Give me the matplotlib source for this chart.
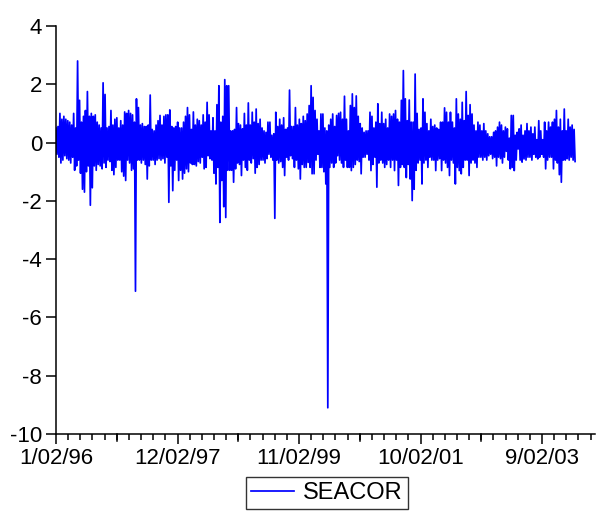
"""
SEACOR daily series, EViews-style line chart (1996-2003).
"""

import numpy as np
import matplotlib

matplotlib.use("Agg")
import matplotlib.pyplot as plt
from matplotlib.ticker import FixedLocator

plt.rcParams["font.family"] = ["Liberation Sans", "DejaVu Sans"]
plt.rcParams["axes.unicode_minus"] = False

# per-column upper / lower envelope of the series
seg1_hi = [0.5, 0.55, 1.0, 0.8, 0.9, 0.8, 0.75, 0.7, 0.6, 1.0, 0.5, 2.8, 1.45, 0.7, 0.9,
           1.1, 1.75, 0.9, 1.0, 0.9, 0.95, 0.7, 0.6, 0.5, 2.05, 1.65, 0.5, 0.55, 1.1, 0.6,
           0.8, 0.85, 0.5, 0.75, 0.6, 1.05, 1.0, 1.1, 1.0, 0.95, 0.7, 1.5, 1.2, 0.6, 0.65]
seg1_lo = [-0.4, -0.5, -0.7, -0.6, -0.45, -0.55, -0.6, -0.7, -0.5, -0.95, -0.8, -0.6, -1.05, -1.6, -1.7,
           -1.0, -0.8, -2.15, -1.55, -0.8, -0.95, -0.75, -0.8, -0.9, -0.7, -0.85, -0.6, -0.65, -0.95, -1.1,
           -0.85, -0.6, -0.6, -1.0, -1.15, -1.3, -0.6, -0.7, -0.95, -0.9, -5.1, -0.6, -0.6, -0.7, -0.6]

seg2_hi = [0.55, 0.55, 0.6, 1.63, 0.45, 0.4, 0.6, 0.75, 0.93, 0.6, 0.9, 0.95, 0.95, 1.12, 0.55,
           0.5, 0.55, 0.7, 0.5, 0.5, 0.7, 0.9, 1.2, 0.95, 0.45, 1.05, 0.6, 0.8, 0.75, 0.6,
           0.95, 0.7, 1.38, 0.95, 0.4, 0.85, 0.4, 1.3, 1.95, 0.7, 0.9, 2.16, 1.95, 1.95, 0.4]
seg2_lo = [-0.75, -1.25, -0.8, -0.6, -0.6, -0.75, -0.6, -0.55, -0.6, -0.55, -0.7, -0.5, -2.05, -0.8, -1.65,
           -0.95, -0.6, -1.3, -0.95, -1.25, -1.05, -0.9, -1.0, -0.7, -0.75, -0.75, -0.8, -0.65, -0.7, -0.5,
           -0.9, -0.85, -0.45, -0.55, -0.6, -1.05, -1.42, -0.85, -2.74, -1.3, -2.2, -2.57, -0.95, -0.95, -0.95]

seg3_hi = [0.4, 0.45, 1.2, 0.65, 0.6, 0.47, 1.0, 0.6, 1.36, 0.6, 1.04, 0.7, 1.15, 0.65, 0.8,
           0.5, 0.4, 0.35, 0.7, 0.7, 0.25, 0.3, 1.04, 0.55, 0.8, 0.6, 0.85, 0.45, 0.5, 1.8,
           0.55, 0.55, 1.2, 0.6, 0.8, 0.65, 0.9, 0.75, 0.98, 1.27, 1.95, 1.55, 1.1, 0.8, 0.4]
seg3_lo = [-1.36, -0.9, -0.7, -0.75, -1.13, -0.6, -0.85, -0.95, -0.6, -0.7, -0.55, -1.05, -0.85, -0.75, -0.6,
           -0.6, -0.7, -0.55, -0.4, -0.5, -0.6, -2.6, -0.6, -0.7, -0.65, -0.85, -1.13, -0.5, -0.6, -0.45,
           -0.55, -0.85, -0.6, -0.9, -1.25, -0.75, -0.85, -0.85, -0.68, -0.85, -1.07, -1.07, -0.6, -0.4, -0.85]

seg4_hi = [0.98, 0.98, 0.5, 0.4, 0.6, 0.8, 0.98, 0.55, 0.93, 1.0, 1.04, 0.8, 1.59, 0.8, 0.4,
           1.27, 1.67, 1.2, 1.6, 0.9, 0.65, 0.5, 0.35, 0.4, 0.4, 1.04, 0.9, 0.5, 0.7, 1.33,
           0.65, 1.04, 0.65, 0.8, 0.5, 0.98, 0.9, 0.98, 1.1, 0.8, 0.7, 1.45, 2.47, 1.5, 0.75]
seg4_lo = [-0.85, -1.0, -1.42, -9.1, -0.85, -0.7, -0.85, -0.7, -0.45, -0.6, -0.7, -0.85, -0.6, -0.85, -0.85,
           -0.96, -0.85, -0.75, -0.6, -0.65, -1.07, -0.5, -0.5, -0.4, -0.6, -0.96, -0.75, -0.5, -1.53, -0.7,
           -0.6, -0.7, -0.85, -0.75, -0.6, -0.85, -0.6, -0.96, -0.6, -1.47, -0.85, -0.75, -0.85, -1.2, -0.75]

seg5_hi = [1.46, 0.7, 0.7, 2.35, 1.0, 0.45, 0.5, 1.5, 1.04, 0.65, 0.4, 0.8, 0.55, 0.6, 0.5,
           0.45, 0.7, 0.7, 1.19, 1.04, 0.7, 1.04, 0.7, 0.5, 1.5, 0.98, 0.8, 1.38, 0.75, 1.75,
           0.93, 1.3, 0.98, 0.6, 0.4, 0.7, 0.6, 0.4, 0.65, 0.4, 0.3, 0.2, 0.2, 0.35, 0.4]
seg5_lo = [-1.25, -1.99, -1.6, -0.95, -0.7, -0.6, -1.42, -0.7, -0.6, -0.85, -0.5, -0.6, -0.6, -0.96, -0.6,
           -0.55, -0.96, -0.6, -0.7, -0.85, -1.13, -0.6, -0.7, -1.42, -0.85, -0.96, -1.07, -0.85, -0.6, -0.6,
           -1.13, -0.7, -0.6, -0.7, -0.85, -0.5, -0.5, -0.6, -0.5, -0.6, -0.45, -0.4, -0.55, -0.5, -0.8]

seg6_hi = [0.53, 0.7, 0.6, 0.4, 0.53, 0.47, 0.15, 0.93, 0.93, 0.25, 0.35, 0.47, 0.6, 0.25, 0.4,
           0.65, 0.4, 0.53, 0.3, 0.53, 0.1, 0.75, 0.4, 0.1, 0.7, 0.4, 0.7, 0.53, 0.7, 0.8,
           1.1, 0.53, 0.8, 0.4, 1.15, 0.4, 0.8, 0.53, 0.6, 0.45]
seg6_lo = [-0.5, -0.55, -0.7, -0.5, -0.3, -0.6, -0.9, -0.85, -0.96, -0.6, -0.22, -0.6, -0.67, -0.56, -0.6,
           -0.5, -0.5, -0.6, -0.4, -0.5, -0.56, -0.5, -0.4, -0.5, -0.9, -0.6, -0.5, -0.5, -0.9, -0.6,
           -0.7, -1.1, -1.36, -0.6, -0.6, -0.55, -0.6, -0.5, -0.6, -0.65]

tick_labels = ["1/02/96", "12/02/97", "11/02/99", "10/02/01", "9/02/03"]
label_obs = [0, 500, 1000, 1500, 2000]
last_obs = 2136
axis_end_obs = 2218
series_name = "SEACOR"


def build_series():
    hi = seg1_hi + seg2_hi + seg3_hi + seg4_hi + seg5_hi + seg6_hi
    lo = seg1_lo + seg2_lo + seg3_lo + seg4_lo + seg5_lo + seg6_lo
    values = []
    for h, l in zip(hi, lo):
        values.extend([h, l])
    return np.array(values)


def main():
    y = build_series()
    x = np.linspace(0, last_obs, len(y))

    fig = plt.figure(figsize=(5.96, 5.25), dpi=100)
    ax = fig.add_axes([56 / 596, 1 - 434 / 525, 539 / 596, 408 / 525])

    (line,) = ax.plot(x, y, color="#0000ff", lw=1.25)

    ax.set_xlim(0, axis_end_obs)
    ax.set_ylim(-10, 4)
    ax.set_xticks(label_obs)
    ax.set_xticklabels(tick_labels)
    ax.xaxis.set_minor_locator(FixedLocator(
        sorted(set(range(0, axis_end_obs + 1, 50)) - set(label_obs))))
    ax.set_yticks(range(-10, 5, 2))

    for side in ("top", "right"):
        ax.spines[side].set_visible(False)
    for side in ("left", "bottom"):
        ax.spines[side].set_linewidth(1.1)

    ax.tick_params(axis="both", which="major", direction="out", length=7, width=1.1,
                   labelsize=16, pad=3)
    ax.tick_params(axis="x", which="minor", direction="out", length=4.5, width=1.1)
    # unlabeled majors every 250 obs are longer
    for v in range(250, axis_end_obs + 1, 500):
        ax.plot([v, v], [-10, -10.25], color="black", lw=1.1, clip_on=False)

    fig.legend([line], [series_name], loc="center",
               bbox_to_anchor=(327 / 596, 1 - 493 / 525), frameon=True, fancybox=False,
               edgecolor="black", fontsize=17, handlelength=1.8, borderpad=0.2,
               handletextpad=0.4, borderaxespad=0)

    fig.savefig("out.png", dpi=100)
    plt.close(fig)


if __name__ == "__main__":
    main()
